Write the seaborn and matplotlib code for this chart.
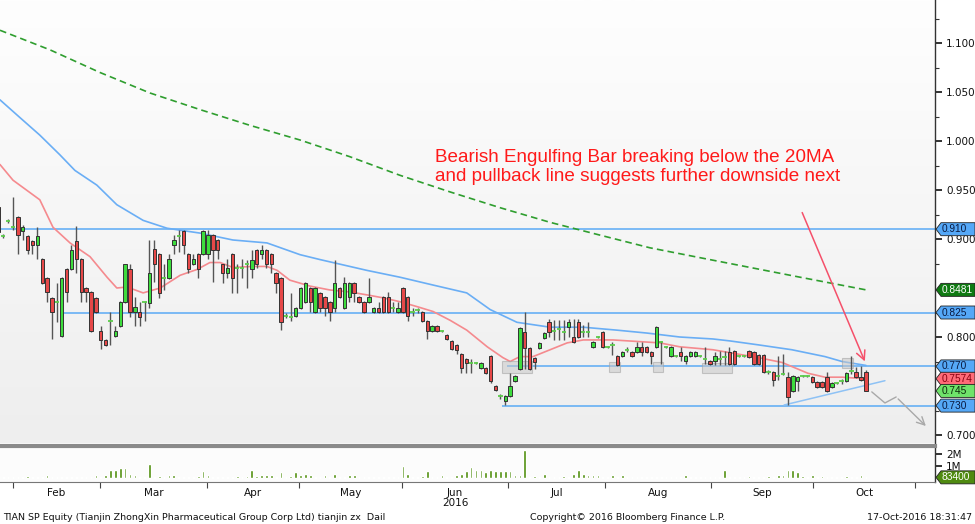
import numpy as np
import matplotlib
matplotlib.use("Agg")
import matplotlib.pyplot as plt
import seaborn as sns
from matplotlib.patches import Polygon, Rectangle
from matplotlib.colors import LinearSegmentedColormap
from matplotlib.transforms import IdentityTransform
from matplotlib import font_manager

# ---------------- data ----------------
opens = [0.933, 0.903, 0.918, 0.912, 0.922, 0.908, 0.903, 0.898, 0.894, 0.880,
         0.860, 0.840, 0.836, 0.801, 0.869, 0.869, 0.898, 0.880, 0.850, 0.846,
         0.840, 0.806, 0.797, 0.816, 0.801, 0.811, 0.836, 0.869, 0.826, 0.826,
         0.836, 0.835, 0.890, 0.885, 0.860, 0.860, 0.894, 0.903, 0.908, 0.885,
         0.874, 0.885, 0.885, 0.885, 0.904, 0.899, 0.874, 0.865, 0.885, 0.870,
         0.870, 0.874, 0.869, 0.889, 0.885, 0.889, 0.885, 0.865, 0.860, 0.821,
         0.820, 0.821, 0.830, 0.836, 0.850, 0.826, 0.845, 0.841, 0.836, 0.830,
         0.850, 0.830, 0.841, 0.855, 0.841, 0.836, 0.836, 0.826, 0.830, 0.841,
         0.841, 0.830, 0.826, 0.850, 0.841, 0.826, 0.828, 0.826, 0.816, 0.806,
         0.811, 0.806, 0.802, 0.796, 0.792, 0.783, 0.778, 0.773, 0.773, 0.768,
         0.768, 0.781, 0.750, 0.740, 0.735, 0.740, 0.755, 0.767, 0.805, 0.789,
         0.779, 0.789, 0.799, 0.815, 0.806, 0.808, 0.805, 0.810, 0.800, 0.815,
         0.805, 0.805, 0.790, 0.800, 0.805, 0.790, 0.792, 0.781, 0.781, 0.787,
         0.785, 0.785, 0.790, 0.790, 0.785, 0.790, 0.795, 0.790, 0.781, 0.781,
         0.785, 0.776, 0.781, 0.781, 0.781, 0.778, 0.776, 0.776, 0.778, 0.780,
         0.785, 0.786, 0.781, 0.781, 0.786, 0.785, 0.782, 0.782, 0.764, 0.764,
         0.760, 0.762, 0.759, 0.745, 0.755, 0.760, 0.760, 0.759, 0.754, 0.754,
         0.759, 0.749, 0.753, 0.755, 0.755, 0.765, 0.764, 0.759, 0.764]
highs = [0.935, 0.905, 0.920, 0.943, 0.923, 0.914, 0.904, 0.899, 0.912, 0.881,
         0.861, 0.841, 0.855, 0.861, 0.870, 0.894, 0.913, 0.881, 0.851, 0.847,
         0.841, 0.811, 0.798, 0.826, 0.811, 0.837, 0.875, 0.875, 0.841, 0.836,
         0.837, 0.899, 0.899, 0.886, 0.874, 0.885, 0.904, 0.909, 0.909, 0.886,
         0.885, 0.886, 0.909, 0.909, 0.905, 0.900, 0.875, 0.880, 0.886, 0.874,
         0.880, 0.879, 0.889, 0.890, 0.894, 0.890, 0.886, 0.866, 0.861, 0.825,
         0.845, 0.831, 0.851, 0.856, 0.851, 0.851, 0.846, 0.842, 0.837, 0.879,
         0.851, 0.861, 0.856, 0.856, 0.842, 0.837, 0.860, 0.831, 0.836, 0.842,
         0.846, 0.836, 0.836, 0.851, 0.842, 0.830, 0.830, 0.827, 0.817, 0.812,
         0.812, 0.807, 0.803, 0.797, 0.793, 0.784, 0.779, 0.778, 0.775, 0.774,
         0.769, 0.782, 0.751, 0.742, 0.741, 0.763, 0.761, 0.810, 0.826, 0.790,
         0.780, 0.795, 0.805, 0.818, 0.817, 0.817, 0.817, 0.818, 0.818, 0.818,
         0.812, 0.815, 0.796, 0.801, 0.806, 0.791, 0.795, 0.782, 0.786, 0.790,
         0.786, 0.795, 0.795, 0.791, 0.786, 0.811, 0.796, 0.791, 0.791, 0.782,
         0.790, 0.782, 0.786, 0.786, 0.782, 0.790, 0.777, 0.785, 0.786, 0.786,
         0.790, 0.787, 0.782, 0.782, 0.787, 0.786, 0.783, 0.783, 0.766, 0.765,
         0.781, 0.783, 0.764, 0.761, 0.760, 0.761, 0.761, 0.760, 0.755, 0.755,
         0.764, 0.754, 0.754, 0.757, 0.764, 0.781, 0.769, 0.770, 0.766]
lows = [0.905, 0.901, 0.916, 0.909, 0.885, 0.899, 0.885, 0.885, 0.880, 0.854,
        0.836, 0.798, 0.815, 0.800, 0.836, 0.868, 0.865, 0.836, 0.836, 0.805,
        0.825, 0.788, 0.791, 0.792, 0.800, 0.810, 0.835, 0.820, 0.811, 0.811,
        0.816, 0.830, 0.856, 0.840, 0.848, 0.859, 0.885, 0.887, 0.885, 0.865,
        0.873, 0.860, 0.884, 0.880, 0.856, 0.880, 0.855, 0.860, 0.845, 0.845,
        0.860, 0.850, 0.860, 0.870, 0.880, 0.870, 0.865, 0.845, 0.807, 0.819,
        0.816, 0.820, 0.829, 0.835, 0.826, 0.825, 0.826, 0.821, 0.816, 0.826,
        0.840, 0.829, 0.836, 0.836, 0.835, 0.825, 0.835, 0.825, 0.825, 0.825,
        0.825, 0.826, 0.825, 0.825, 0.816, 0.821, 0.825, 0.815, 0.798, 0.805,
        0.805, 0.805, 0.797, 0.787, 0.783, 0.763, 0.763, 0.763, 0.772, 0.767,
        0.762, 0.753, 0.745, 0.737, 0.731, 0.739, 0.754, 0.766, 0.767, 0.766,
        0.767, 0.788, 0.798, 0.800, 0.797, 0.797, 0.797, 0.800, 0.794, 0.799,
        0.800, 0.800, 0.789, 0.799, 0.789, 0.789, 0.782, 0.770, 0.780, 0.785,
        0.780, 0.784, 0.781, 0.784, 0.772, 0.789, 0.772, 0.789, 0.780, 0.780,
        0.776, 0.772, 0.780, 0.780, 0.780, 0.772, 0.771, 0.771, 0.771, 0.771,
        0.771, 0.771, 0.780, 0.780, 0.779, 0.771, 0.771, 0.763, 0.762, 0.750,
        0.756, 0.761, 0.731, 0.744, 0.745, 0.759, 0.759, 0.753, 0.748, 0.748,
        0.744, 0.748, 0.752, 0.752, 0.754, 0.762, 0.758, 0.755, 0.745]
closes = [0.907, 0.903, 0.918, 0.912, 0.904, 0.912, 0.889, 0.894, 0.903, 0.855,
          0.846, 0.826, 0.836, 0.860, 0.846, 0.889, 0.880, 0.846, 0.846, 0.806,
          0.826, 0.797, 0.792, 0.816, 0.806, 0.836, 0.874, 0.826, 0.831, 0.820,
          0.836, 0.865, 0.874, 0.845, 0.860, 0.880, 0.899, 0.903, 0.894, 0.869,
          0.880, 0.869, 0.908, 0.904, 0.889, 0.889, 0.865, 0.870, 0.860, 0.870,
          0.870, 0.874, 0.879, 0.874, 0.889, 0.874, 0.874, 0.855, 0.815, 0.821,
          0.820, 0.830, 0.850, 0.855, 0.836, 0.850, 0.830, 0.830, 0.826, 0.855,
          0.841, 0.855, 0.855, 0.845, 0.836, 0.826, 0.841, 0.830, 0.826, 0.826,
          0.826, 0.830, 0.830, 0.826, 0.821, 0.826, 0.828, 0.816, 0.806, 0.811,
          0.806, 0.806, 0.798, 0.788, 0.787, 0.768, 0.773, 0.773, 0.773, 0.773,
          0.763, 0.755, 0.746, 0.740, 0.740, 0.750, 0.760, 0.809, 0.789, 0.767,
          0.774, 0.794, 0.804, 0.805, 0.806, 0.808, 0.805, 0.815, 0.795, 0.800,
          0.805, 0.805, 0.795, 0.800, 0.790, 0.790, 0.792, 0.771, 0.785, 0.787,
          0.781, 0.790, 0.785, 0.785, 0.781, 0.810, 0.795, 0.790, 0.790, 0.781,
          0.781, 0.781, 0.785, 0.785, 0.781, 0.778, 0.772, 0.781, 0.778, 0.780,
          0.772, 0.772, 0.781, 0.781, 0.780, 0.772, 0.772, 0.764, 0.764, 0.756,
          0.760, 0.762, 0.739, 0.760, 0.759, 0.760, 0.760, 0.754, 0.749, 0.749,
          0.745, 0.753, 0.753, 0.755, 0.763, 0.765, 0.759, 0.756, 0.745]
volume_m = [0.08, 0.1, 0.12, 0.1, 0.08, 0.1, 0.2, 0.15, 0.1, 0.1,
            0.25, 0.12, 0.08, 0.1, 0.12, 0.15, 0.12, 0.15, 0.12, 0.1,
            0.3, 0.15, 0.25, 0.7, 0.7, 0.85, 0.85, 0.4, 0.3, 0.1,
            0.15, 1.2, 0.15, 0.2, 0.1, 0.3, 0.3, 0.1, 0.12, 0.1,
            0.15, 0.2, 0.6, 0.25, 0.1, 0.12, 0.1, 0.1, 0.15, 0.2,
            0.15, 0.2, 0.65, 0.2, 0.3, 0.3, 0.3, 0.15, 0.55, 0.1,
            0.2, 0.5, 0.3, 0.4, 0.3, 0.1, 0.15, 0.3, 0.1, 0.4,
            0.1, 0.12, 0.3, 0.3, 0.1, 0.12, 0.1, 0.1, 0.12, 0.1,
            0.1, 0.1, 0.12, 1.0, 0.4, 0.1, 0.15, 0.2, 0.6, 0.1,
            0.12, 0.3, 0.1, 0.15, 0.3, 0.35, 0.6, 0.9, 0.7, 0.7,
            0.5, 0.7, 0.6, 0.6, 0.6, 0.6, 0.3, 0.3, 2.35, 0.12,
            0.2, 0.1, 0.4, 0.12, 0.1, 0.15, 0.2, 0.12, 0.35, 0.7,
            0.35, 0.3, 0.3, 0.25, 0.15, 0.12, 0.25, 0.12, 0.3, 0.1,
            0.1, 0.12, 0.1, 0.1, 0.12, 0.1, 0.1, 0.12, 0.1, 0.1,
            0.12, 0.25, 0.1, 0.12, 0.1, 0.1, 0.15, 0.1, 0.12, 0.7,
            0.12, 0.1, 0.1, 0.12, 0.2, 0.1, 0.12, 0.1, 0.2, 0.12,
            0.25, 0.3, 0.7, 0.65, 0.5, 0.2, 0.12, 0.3, 0.12, 0.2,
            0.12, 0.12, 0.15, 0.12, 0.2, 0.12, 0.1, 0.3, 0.0834]

# moving averages read at sampled bar positions
ma20_x = [0.33, 3, 8.5, 11.2, 14.7, 18.8, 22.3, 24.3, 26.4, 29.7, 33.2, 37.3, 40.8,
          43.4, 45.5, 48.1, 52.2, 55.1, 57.2, 59.8, 63.9, 68, 72.1, 75.6, 78.9, 82.4,
          85.9, 89.2, 92.7, 96.1, 100.3, 103.5, 105, 107, 109.7, 113.2, 116.7, 120,
          126.1, 135.7, 139.8, 146.6, 150.1, 155.9, 160.8, 166.1, 169.6, 173.1, 178]
ma20_v = [0.976, 0.960, 0.940, 0.912, 0.896, 0.882, 0.861, 0.850, 0.851, 0.845, 0.850,
          0.863, 0.869, 0.876, 0.876, 0.871, 0.872, 0.872, 0.868, 0.858, 0.852, 0.848,
          0.846, 0.843, 0.840, 0.836, 0.831, 0.826, 0.817, 0.807, 0.790, 0.779, 0.775,
          0.780, 0.780, 0.787, 0.794, 0.797, 0.797, 0.794, 0.790, 0.787, 0.784, 0.779,
          0.774, 0.763, 0.759, 0.759, 0.7574]
ma50_x = [0.33, 4.4, 8.5, 12.6, 15.7, 20.2, 24.3, 29.7, 34.6, 41.4, 48.1, 55.1, 61.9,
          66, 75.6, 82.4, 89.2, 96.1, 100.9, 106.4, 113.2, 120, 126.9, 133.1, 139.8,
          146.6, 150.1, 155.9, 162.8, 169.6, 173.1, 178]
ma50_v = [1.042, 1.024, 1.006, 0.986, 0.970, 0.955, 0.935, 0.919, 0.911, 0.906, 0.899,
          0.896, 0.884, 0.879, 0.868, 0.861, 0.853, 0.845, 0.828, 0.815, 0.810, 0.810,
          0.807, 0.804, 0.800, 0.798, 0.796, 0.792, 0.787, 0.780, 0.775, 0.771]
ma200_x = [0.33, 10.6, 20.8, 31.1, 41.4, 51.6, 61.9, 72.1, 82.4, 92.7, 102.9, 113.2,
           123.4, 133.7, 143.9, 154.2, 164.5, 178]
ma200_v = [1.113, 1.093, 1.070, 1.049, 1.032, 1.016, 1.001, 0.984, 0.965, 0.948, 0.932,
           0.917, 0.904, 0.891, 0.881, 0.871, 0.861, 0.8481]

month_labels = ["Feb", "Mar", "Apr", "May", "Jun", "Jul", "Aug", "Sep", "Oct"]
month_starts = [3, 20.9, 42.8, 61.7, 82.8, 104.6, 124.5, 146.2, 167.1, 188.1]
price_ticks = [0.700, 0.800, 0.900, 0.950, 1.000, 1.050, 1.100]
level_values = [0.910, 0.825, 0.770, 0.730]
level_starts = [0.33, 13, 104.4, 103.3]

# ---------------- style ----------------
sns.set_theme(style="white")
plt.rcParams['font.family'] = ['DejaVu Sans']
names = {f.name for f in font_manager.fontManager.ttflist}
narrow = 'Liberation Sans Narrow' in names

W, H = 975, 524
fig = plt.figure(figsize=(W / 100, H / 100), dpi=100)
fig.patch.set_facecolor('white')

XL = (0.333, 192.17)
YL = (0.69184, 1.14388)
ax = fig.add_axes([0, (H - 443) / H, 935 / W, 443 / H])
axv = fig.add_axes([0, (H - 482) / H, 935 / W, 36 / H])

# background gradient
cmap = LinearSegmentedColormap.from_list('bg', ['#fefefe', '#eeeeee'])
ax.imshow(np.linspace(0, 1, 256).reshape(-1, 1), cmap=cmap, aspect='auto',
          extent=(0, 1, 0, 1), transform=ax.transAxes, zorder=0)

n = len(closes)
xs = list(range(n))
green, red = '#3ddc3d', '#e64848'
for i in xs:
    o, h, l, c = opens[i], highs[i], lows[i], closes[i]
    ax.vlines(i, l, h, color='#555555', lw=1.0, zorder=3)
    if abs(c - o) < 1e-9:
        ax.hlines(c, i - 0.45, i + 0.45, color='#5ccc4a', lw=1.3, zorder=4)
    else:
        col = green if c > o else red
        ax.bar(i, abs(c - o), bottom=min(o, c), width=0.7, color=col,
               edgecolor='#333333', linewidth=0.7, zorder=4)

# horizontal levels
for v, s in zip(level_values, level_starts):
    ax.hlines(v, s, XL[1], color='#5aaaf5', lw=1.1, zorder=2)

# highlight boxes
for (x0, x1, y0, y1) in [(103.3, 109.5, 0.7633, 0.7755), (125.3, 127.5, 0.7643, 0.7745),
                         (134.3, 136.4, 0.7643, 0.7745), (144.4, 150.5, 0.7633, 0.7735),
                         (173.1, 175.3, 0.7684, 0.7786)]:
    ax.add_patch(Rectangle((x0, y0), x1 - x0, y1 - y0, facecolor='#c8c8c8', alpha=0.55,
                           edgecolor='#a0a0a0', lw=0.8, zorder=2.5))

# moving averages
sns.lineplot(x=ma200_x, y=ma200_v, ax=ax, color='#2f9e2f', lw=1.2, zorder=2, estimator=None)
ax.lines[-1].set_dashes([4, 2.5])
sns.lineplot(x=ma50_x, y=ma50_v, ax=ax, color='#6aaef5', lw=1.2, zorder=2, estimator=None)
sns.lineplot(x=ma20_x, y=ma20_v, ax=ax, color='#f58a8e', lw=1.2, zorder=2, estimator=None)

# trend line and projected path
ax.plot([161.2, 181.9], [0.7306, 0.7554], color='#8ec2f5', lw=1.1, zorder=2)
ax.plot([179.2, 181.9, 184.2], [0.744, 0.7327, 0.7388], color='#a8a8a8', lw=1.0, zorder=2)
ax.annotate('', xy=(190.7, 0.7072), xytext=(184.2, 0.7388),
            arrowprops=dict(arrowstyle='->', color='#a8a8a8', lw=1.0,
                            mutation_scale=14), zorder=2)
ax.annotate('', xy=(178, 0.7725), xytext=(164.7, 0.9296),
            arrowprops=dict(arrowstyle='->', color='#f5506a', lw=1.1,
                            mutation_scale=16), zorder=6)

txt = ("Bearish Engulfing Bar breaking below the 20MA\n"
       "and pullback line suggests further downside next")
if narrow:
    ax.text(89.6, 0.9918, txt, color='#ff1a1a', fontsize=15.5, family='Liberation Sans Narrow',
            va='top', ha='left', linespacing=1.02, zorder=7)
else:
    ax.text(89.6, 0.9918, txt, color='#ff1a1a', fontsize=13.6, family='Liberation Sans',
            va='top', ha='left', linespacing=1.17, zorder=7)

ax.set_xlim(*XL)
ax.set_ylim(*YL)
ax.yaxis.tick_right()
ax.set_yticks(price_ticks)
ax.set_yticklabels([f"{t:.3f}" for t in price_ticks])
ax.set_yticks([0.725, 0.775, 0.825, 0.875, 0.925, 0.975, 1.025, 1.075, 1.125], minor=True)
ax.tick_params(axis='y', which='major', direction='out', length=5, width=1.2, pad=3,
               labelsize=7.5, colors='#111111', right=True, left=False)
ax.tick_params(axis='y', which='minor', direction='out', length=3, width=0.8,
               colors='#333333', right=True, left=False)
ax.set_xticks([])
for s in ['left', 'top', 'bottom']:
    ax.spines[s].set_visible(False)
ax.spines['right'].set_color('#333333')
ax.spines['right'].set_linewidth(1.0)
ax.set_xlabel('')
ax.set_ylabel('')

# volume panel
axv.set_facecolor('#fcfcfc')
axv.bar(xs, volume_m, width=0.55, color='#4f8f0c', zorder=3)
axv.set_xlim(*XL)
axv.set_ylim(-0.3, 2.67)
axv.yaxis.tick_right()
axv.set_yticks([1, 2])
axv.set_yticklabels(['1M', '2M'])
axv.tick_params(axis='y', direction='out', length=5, width=1.2, pad=3, labelsize=7.5,
                colors='#111111', right=True, left=False)
axv.set_xticks(month_starts)
axv.set_xticklabels([])
axv.tick_params(axis='x', which='major', direction='out', length=4, width=0.8,
                colors='#444444', bottom=True)
mids = [(month_starts[k] + month_starts[k + 1]) / 2 for k in range(len(month_labels))]
axv.set_xticks(mids, minor=True)
axv.set_xticklabels(month_labels, minor=True)
axv.tick_params(axis='x', which='minor', length=0, pad=4, labelsize=7.5, colors='#111111')
axv.spines['left'].set_visible(False)
axv.spines['top'].set_color('#8a8a8a')
axv.spines['top'].set_linewidth(3)
axv.spines['bottom'].set_color('#777777')
axv.spines['bottom'].set_linewidth(0.8)
axv.spines['right'].set_color('#333333')
axv.spines['right'].set_linewidth(1.0)
axv.set_xlabel('')
axv.set_ylabel('')

fig.text(455 / W, 1 - 503 / H, '2016', ha='center', va='center', fontsize=7.5, color='#111111')

# bottom footer
fig.text(3 / W, 1 - 517 / H,
         'TIAN SP Equity (Tianjin ZhongXin Pharmaceutical Group Corp Ltd) tianjin zx  Dail',
         ha='left', va='center', fontsize=6.8, color='#111111')
fig.text(628 / W, 1 - 517 / H, 'Copyright\u00a9 2016 Bloomberg Finance L.P.',
         ha='center', va='center', fontsize=6.8, color='#111111')
fig.text(972 / W, 1 - 517 / H, '17-Oct-2016 18:31:47', ha='right', va='center',
         fontsize=6.8, color='#111111')


# value tags on the right axis
def tag(axis, value, text, face, tcol):
    y = axis.transData.transform((0, value))[1]
    h = 13
    pts = [[936, y], [941, y + h / 2], [975, y + h / 2], [975, y - h / 2], [941, y - h / 2]]
    fig.add_artist(Polygon(pts, closed=True, facecolor=face, edgecolor='#222222', lw=0.6,
                           transform=IdentityTransform(), zorder=10))
    fig.text(942 / W, y / H, text, ha='left', va='center', fontsize=7.3,
             family='Liberation Sans', color=tcol, zorder=11)


tag(ax, 0.910, '0.910', '#55a8f7', '#0a1a40')
tag(ax, 0.8481, '0.8481', '#0f7a12', 'white')
tag(ax, 0.825, '0.825', '#55a8f7', '#0a1a40')
tag(ax, 0.770, '0.770', '#55a8f7', '#0a1a40')
tag(ax, 0.7574, '0.7574', '#ff6b78', '#8a0010')
tag(ax, 0.745, '0.745', '#6fe36a', '#0a2a0a')
tag(ax, 0.730, '0.730', '#55a8f7', '#0a1a40')
tag(axv, 0.0834, '83400', '#4f8a10', 'white')

fig.savefig('out.png', dpi=100)
